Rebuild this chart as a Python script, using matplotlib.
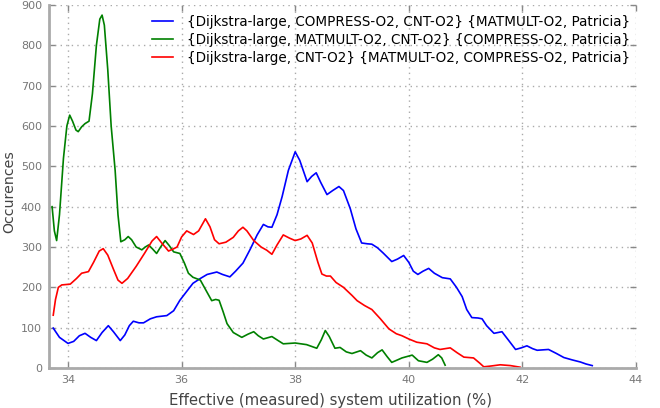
import numpy as np
import matplotlib
matplotlib.use("Agg")
import matplotlib.pyplot as plt

# (utilization %, occurences)
green_x = [33.72, 33.76, 33.80, 33.85, 33.92, 33.98, 34.03, 34.08, 34.14, 34.18,
           34.24, 34.30, 34.37, 34.43, 34.50, 34.56, 34.60, 34.64, 34.70, 34.76,
           34.83, 34.88, 34.93, 35.00, 35.06, 35.12, 35.20, 35.30, 35.36, 35.42,
           35.49, 35.56, 35.63, 35.71, 35.78, 35.86, 35.97, 36.05, 36.12, 36.20,
           36.33, 36.42, 36.53, 36.60, 36.66, 36.73, 36.80, 36.91, 37.06, 37.17,
           37.27, 37.35, 37.44, 37.59, 37.70, 37.79, 38.00, 38.20, 38.38, 38.46,
           38.53, 38.60, 38.70, 38.79, 38.90, 39.00, 39.15, 39.25, 39.35, 39.45,
           39.53, 39.62, 39.70, 39.80, 39.88, 40.06, 40.17, 40.32, 40.42, 40.52,
           40.58, 40.64]
green_y = [400, 340, 316, 380, 520, 600, 627, 612, 590, 586,
           598, 606, 612, 680, 800, 865, 875, 850, 740, 600,
           490, 380, 313, 318, 326, 318, 300, 293, 300, 305,
           295, 284, 300, 316, 304, 288, 284, 260, 235, 225,
           218, 195, 167, 170, 168, 140, 110, 88, 76, 84,
           90, 80, 72, 78, 68, 60, 62, 58, 49, 70,
           93, 78, 49, 51, 40, 36, 43, 32, 25, 38,
           45, 28, 14, 20, 25, 32, 18, 14, 22, 33,
           25, 7]

red_x = [33.74, 33.78, 33.83, 33.89, 34.04, 34.15, 34.24, 34.36, 34.45, 34.55,
         34.62, 34.70, 34.80, 34.88, 34.95, 35.05, 35.20, 35.35, 35.48, 35.56,
         35.65, 35.77, 35.85, 35.92, 36.00, 36.09, 36.21, 36.30, 36.42, 36.50,
         36.58, 36.66, 36.78, 36.91, 37.00, 37.08, 37.15, 37.27, 37.40, 37.50,
         37.59, 37.68, 37.79, 37.90, 38.00, 38.10, 38.21, 38.30, 38.40, 38.47,
         38.55, 38.62, 38.72, 38.85, 39.00, 39.09, 39.22, 39.35, 39.50, 39.65,
         39.78, 39.88, 40.00, 40.14, 40.32, 40.45, 40.55, 40.73, 40.85, 40.97,
         41.14, 41.25, 41.32, 41.45, 41.61, 41.79, 41.96]
red_y = [131, 170, 200, 206, 208, 222, 235, 239, 262, 290,
         296, 280, 245, 218, 210, 222, 252, 285, 315, 326,
         310, 290, 295, 300, 325, 340, 331, 340, 370, 350,
         318, 308, 312, 324, 340, 349, 340, 316, 300, 292,
         282, 305, 330, 322, 316, 320, 329, 310, 262, 233,
         228, 228, 212, 200, 180, 167, 155, 145, 122, 97,
         85, 80, 72, 64, 60, 50, 46, 50, 38, 27,
         25, 12, 3, 5, 8, 6, 2]

blue_x = [33.74, 33.85, 34.00, 34.10, 34.20, 34.30, 34.40, 34.50, 34.60, 34.71,
          34.80, 34.92, 35.00, 35.08, 35.15, 35.25, 35.33, 35.45, 35.56, 35.74,
          35.86, 35.97, 36.09, 36.20, 36.33, 36.45, 36.62, 36.72, 36.85, 36.95,
          37.08, 37.21, 37.33, 37.44, 37.52, 37.59, 37.68, 37.77, 37.88, 38.00,
          38.08, 38.21, 38.29, 38.37, 38.45, 38.56, 38.66, 38.77, 38.85, 38.97,
          39.07, 39.17, 39.27, 39.35, 39.45, 39.55, 39.70, 39.80, 39.91, 40.00,
          40.08, 40.16, 40.25, 40.35, 40.45, 40.59, 40.73, 40.84, 40.94, 41.02,
          41.11, 41.22, 41.29, 41.37, 41.50, 41.64, 41.75, 41.88, 41.98, 42.08,
          42.18, 42.26, 42.36, 42.46, 42.60, 42.73, 42.88, 43.02, 43.12, 43.23]
blue_y = [99, 76, 61, 66, 80, 86, 76, 68, 88, 105,
          90, 68, 82, 105, 116, 112, 112, 122, 127, 130,
          142, 168, 190, 210, 222, 232, 238, 232, 226, 240,
          260, 295, 330, 356, 350, 349, 380, 425, 490, 536,
          515, 462, 475, 484, 460, 430, 440, 450, 440, 395,
          345, 310, 308, 307, 298, 285, 264, 270, 279, 262,
          240, 232, 240, 247, 235, 224, 221, 200, 177, 145,
          125, 124, 122, 105, 86, 90, 70, 46, 50, 55,
          48, 44, 45, 46, 36, 26, 20, 15, 10, 6]

labels = [
    "{Dijkstra-large, COMPRESS-O2, CNT-O2} {MATMULT-O2, Patricia}",
    "{Dijkstra-large, MATMULT-O2, CNT-O2} {COMPRESS-O2, Patricia}",
    "{Dijkstra-large, CNT-O2} {MATMULT-O2, COMPRESS-O2, Patricia}",
]

fig = plt.figure(figsize=(6.6, 4.08), dpi=100)
ax = fig.add_axes([0.0742, 0.098, 0.8894, 0.8897])

ax.plot(blue_x, blue_y, color="b", lw=1.2, label=labels[0])
ax.plot(green_x, green_y, color="g", lw=1.2, label=labels[1])
ax.plot(red_x, red_y, color="r", lw=1.2, label=labels[2])

ax.set_xlim(33.665, 44)
ax.set_ylim(0, 900)
ax.set_xticks([34, 36, 38, 40, 42, 44])
ax.set_yticks(np.arange(0, 901, 100))

ax.grid(True, linestyle=(0, (1, 3)), color="#aaaaaa", lw=1.0)
ax.spines["top"].set_visible(False)
ax.spines["right"].set_visible(False)
for s in ["left", "bottom"]:
    ax.spines[s].set_color("#aaaaaa")
    ax.spines[s].set_linewidth(2)
ax.tick_params(direction="in", top=True, right=True, length=4, width=1,
               color="#888888", labelcolor="#777777", labelsize=8, pad=5)

ax.set_xlabel("Effective (measured) system utilization (%)", fontsize=10.7, color="#444444")
ax.set_ylabel("Occurences", fontsize=10.2, color="#444444")
ax.xaxis.set_label_coords(0.479, -0.07)
ax.yaxis.set_label_coords(-0.056, 0.485)

ax.legend(loc="upper right", frameon=False, fontsize=9.75, handlelength=1.55,
          handletextpad=1.1, labelspacing=0.28, borderaxespad=0,
          bbox_to_anchor=(1.0, 0.987))

fig.savefig("out.png", dpi=100)
